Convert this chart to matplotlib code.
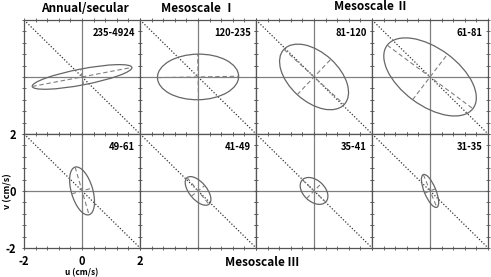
import numpy as np
import matplotlib.pyplot as plt
from matplotlib.patches import Ellipse

# band labels (days) and variance ellipse parameters (cm/s, degrees)
bands = ['235-4924', '120-235', '81-120', '61-81', '49-61', '41-49', '35-41', '31-35']
semi_major = [1.75, 1.40, 1.42, 1.85, 0.87, 0.60, 0.56, 0.62]
semi_minor = [0.28, 0.80, 0.85, 1.00, 0.37, 0.30, 0.37, 0.20]
angle_deg = [11, 1, -43, -37, -74, -51, -44, -68]
tick_labels = ['-2', '0', '2']

plt.rcParams['font.family'] = ['Noto Sans CJK JP', 'DejaVu Sans']

fig, axes = plt.subplots(2, 4, figsize=(4.91, 2.77), dpi=100)
fig.subplots_adjust(left=0.049, right=0.994, top=0.928, bottom=0.105,
                    wspace=0, hspace=0)

gray = '#808080'
for i, ax in enumerate(axes.flat):
    ax.set_xlim(-2, 2)
    ax.set_ylim(-2, 2)
    ax.axhline(0, color=gray, lw=0.9, zorder=1)
    ax.axvline(0, color=gray, lw=0.9, zorder=1)
    ax.plot([-2, 2], [2, -2], color='#333333', ls=(0, (1, 1.5)), lw=0.9, zorder=2)

    a, b, th = semi_major[i], semi_minor[i], np.deg2rad(angle_deg[i])
    ax.add_patch(Ellipse((0, 0), 2 * a, 2 * b, angle=angle_deg[i],
                         fill=False, ec='#666666', lw=0.9, zorder=3))
    ax.plot([-a * np.cos(th), a * np.cos(th)], [-a * np.sin(th), a * np.sin(th)],
            color=gray, ls=(0, (4, 2.5)), lw=0.8, zorder=3)
    ax.plot([b * np.sin(th), -b * np.sin(th)], [-b * np.cos(th), b * np.cos(th)],
            color=gray, ls=(0, (4, 2.5)), lw=0.8, zorder=3)

    ax.text(1.82, 1.72, bands[i], ha='right', va='top', fontsize=6.8,
            fontweight='bold', zorder=4)

    ax.set_xticks([-2, 0, 2])
    ax.set_yticks([-2, 0, 2])
    ax.set_xticks(np.arange(-2, 2.01, 0.4), minor=True)
    ax.set_yticks(np.arange(-2, 2.01, 0.4), minor=True)
    ax.tick_params(which='both', direction='inout', length=3, width=0.6,
                   color='#555555', top=True, right=True)
    for s in ax.spines.values():
        s.set_color('#555555')
        s.set_linewidth(0.9)
    if i == 4:
        ax.set_xticklabels(tick_labels, fontsize=8, fontweight='bold')
        ax.set_yticklabels(tick_labels, fontsize=8, fontweight='bold')
        ax.tick_params(axis='x', which='major', pad=3.5)
        ax.tick_params(axis='y', which='major', pad=4)
        ax.set_ylabel('v (cm/s)', fontsize=6.5, fontweight='bold')
        ax.yaxis.set_label_coords(-0.1, 0.5)
    else:
        ax.set_xticklabels([])
        ax.set_yticklabels([])

# x-axis label of the lower-left panel, pinned to the bottom edge
fig.text(82 / 491, 0.0, 'u (cm/s)', ha='center', va='bottom',
         fontsize=6, fontweight='bold')

title_kw = dict(ha='center', va='center', fontsize=8.5, fontweight='bold')
fig.text(85 / 491, 1 - 9 / 277, 'Annual/secular', **title_kw)
fig.text(198 / 491, 1 - 9 / 277, 'Mesoscale \u2160', **title_kw)
fig.text(371 / 491, 1 - 7 / 277, 'Mesoscale \u2161', **title_kw)
fig.text(262 / 491, 1 - 262 / 277, 'Mesoscale \u2162', **title_kw)

fig.savefig('out.png', dpi=100)
